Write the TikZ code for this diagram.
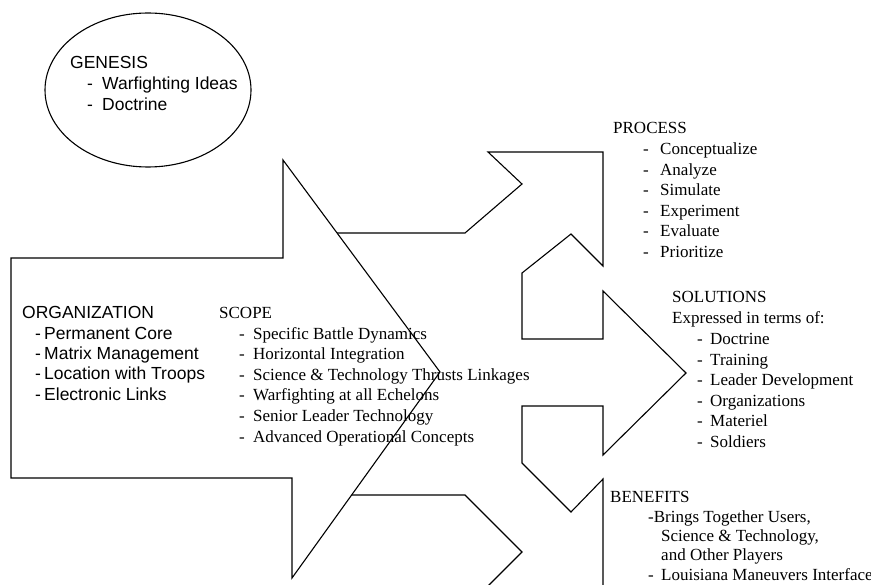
\documentclass[tikz,border=0pt]{standalone}
\usepackage{fontspec}
\setmainfont{Liberation Serif}
\newfontfamily\arialfont{Liberation Sans}
\usepackage{tikz}

\begin{document}
\begin{tikzpicture}[x=1pt,y=-1pt,
    outline/.style={line width=1.1pt, line join=miter},
    sanstext/.style={anchor=base west, inner sep=0pt, font=\arialfont\fontsize{17.5}{20}\selectfont},
    romantext/.style={anchor=base west, inner sep=0pt, font=\fontsize{17}{20}\selectfont}]
  \clip (0,0) rectangle (871,585);
  \fill[white] (0,0) rectangle (871,585);

  % genesis bubble
  \draw[outline] (148,90) ellipse (103 and 77);
  \node[sanstext] (gen) at (70,69) {GENESIS};
  \node[sanstext] (gen-1) at (87,90) {\makebox[15pt][l]{-}Warfighting Ideas};
  \node[sanstext] (gen-2) at (87,110.5) {\makebox[15pt][l]{-}Doctrine};

  % big arrow
  \draw[outline] (11,258) -- (283,258) -- (283,160) -- (440,372) -- (292,578)
    -- (292,478) -- (11,478) -- cycle;

  % chain of small arrows
  \draw[outline] (337,233) -- (465,233) -- (522,184) -- (488,152) -- (603,152)
    -- (603,266) -- (571,234) -- (522,273) -- (522,339) -- (603,339) -- (603,291)
    -- (686,373) -- (603,455) -- (603,406) -- (522,406) -- (522,463) -- (571,512)
    -- (603,479) -- (603,590);
  \draw[outline] (352,495) -- (465,495) -- (522,552) -- (484,590);

  % organization
  \node[sanstext] (org) at (22,319) {ORGANIZATION};
  \foreach \entry [count=\i] in {Permanent Core, Matrix Management,
      Location with Troops, Electronic Links}
    \node[sanstext] (org-\i) at (35,{319+20.3*\i}) {\makebox[9pt][l]{-}\entry};

  % scope
  \node[romantext] (scope) at (219,318.5) {SCOPE};
  \foreach \entry [count=\i] in {Specific Battle Dynamics, Horizontal Integration,
      Science \& Technology Thrusts Linkages, Warfighting at all Echelons,
      Senior Leader Technology, Advanced Operational Concepts}
    \node[romantext] (scope-\i) at (239,{318.5+20.6*\i}) {\makebox[14pt][l]{-}\entry};

  % process
  \node[romantext] (proc) at (613,133.5) {PROCESS};
  \foreach \entry [count=\i] in {Conceptualize, Analyze, Simulate, Experiment,
      Evaluate, Prioritize}
    \node[romantext] (proc-\i) at (643,{134+20.6*\i}) {\makebox[17pt][l]{-}\entry};

  % solutions
  \node[romantext] (sol) at (672,303) {SOLUTIONS};
  \node[romantext] (sol-0) at (672,323.5) {Expressed in terms of:};
  \foreach \entry [count=\i] in {Doctrine, Training, Leader Development,
      Organizations, Materiel, Soldiers}
    \node[romantext] (sol-\i) at (697,{324+20.6*\i}) {\makebox[13pt][l]{-}\entry};

  % benefits
  \node[romantext] (ben) at (610,503) {BENEFITS};
  \node[romantext] (ben-1) at (648,522.5) {-Brings Together Users,};
  \node[romantext] (ben-2) at (661,541.5) {Science \& Technology,};
  \node[romantext] (ben-3) at (661,560.5) {and Other Players};
  \node[romantext] (ben-4) at (648,580.5) {\makebox[13pt][l]{-}Louisiana Maneuvers Interface};
\end{tikzpicture}
\end{document}
